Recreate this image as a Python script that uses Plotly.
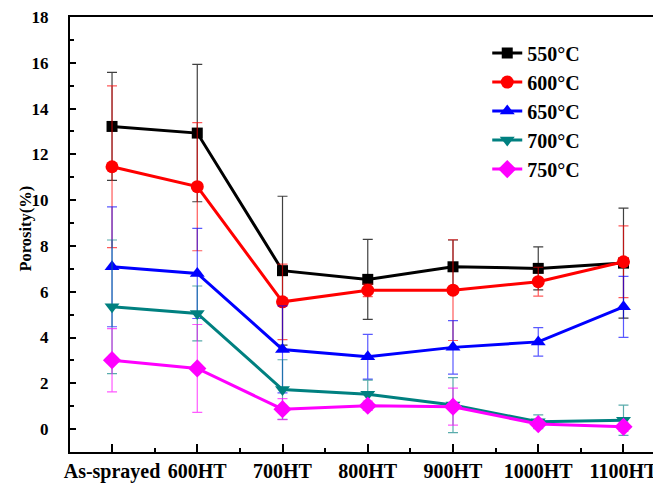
import plotly.graph_objects as go

categories = ["As-sprayed", "600HT", "700HT", "800HT", "900HT", "1000HT", "1100HT"]
series_names = ["550°C", "600°C", "650°C", "700°C", "750°C"]

p550 = [13.22, 12.93, 6.92, 6.54, 7.09, 7.02, 7.25]
e550 = [2.36, 3.0, 3.25, 1.75, 1.17, 0.94, 2.4]
p600 = [11.46, 10.59, 5.56, 6.06, 6.07, 6.44, 7.31]
e600 = [3.53, 2.8, 1.65, 0.27, 2.2, 0.63, 1.57]
p650 = [7.09, 6.80, 3.48, 3.16, 3.57, 3.81, 5.34]
e650 = [2.62, 1.97, 1.9, 0.98, 1.17, 0.62, 1.33]
p700 = [5.34, 5.05, 1.73, 1.52, 1.05, 0.32, 0.39]
e700 = [2.92, 1.2, 1.3, 0.62, 1.2, 0.3, 0.66]
p750 = [3.01, 2.65, 0.87, 1.02, 0.98, 0.22, 0.10]
e750 = [1.38, 1.92, 0.46, 0.2, 0.81, 0.1, 0.2]

values = [p550, p600, p650, p700, p750]
errors = [e550, e600, e650, e700, e750]
colors = ["#000000", "#ff0000", "#0000ff", "#008080", "#ff00ff"]
err_colors = ["rgba(0,0,0,0.75)", "rgba(255,0,0,0.65)", "rgba(0,0,255,0.65)",
              "rgba(0,128,128,0.65)", "rgba(255,0,255,0.65)"]
symbols = ["square", "circle", "triangle-up", "triangle-down", "diamond"]
sizes = [11, 13, 13, 13, 14]

x = list(range(len(categories)))
fig = go.Figure()
for name, v, e, c, ec, s, sz in zip(series_names, values, errors, colors, err_colors, symbols, sizes):
    fig.add_trace(go.Scatter(
        x=x, y=v, name=name, mode="lines+markers",
        line=dict(color=c, width=3),
        marker=dict(symbol=s, size=sz, color=c),
        error_y=dict(type="data", array=e, visible=True, color=ec, thickness=1.2, width=5),
    ))

font_family = "Liberation Serif"
# page body has an 8px default margin, so the figure is sized/offset to compensate
fig.update_layout(
    width=653, height=476,
    margin=dict(l=62, r=0, t=9, b=32),
    paper_bgcolor="white", plot_bgcolor="white",
    font=dict(family=font_family, color="black", size=16),
    showlegend=True,
    legend=dict(x=0.706, y=0.962, xanchor="left", yanchor="top",
                font=dict(family=font_family, size=20, color="black", weight="bold"),
                bgcolor="rgba(0,0,0,0)", tracegroupgap=0),
    annotations=[dict(text="Porosity(%)", textangle=-90, xref="paper", yref="paper",
                      x=-0.075, y=0.513, xanchor="center", yanchor="middle", showarrow=False,
                      font=dict(family=font_family, size=16.5, color="black", weight="bold"))],
)
fig.update_xaxes(
    range=[-0.493, 6.44], automargin=False,
    tickmode="array", tickvals=x, ticktext=categories,
    tickfont=dict(family=font_family, size=20, color="black", weight="bold"),
    ticks="inside", ticklen=8, tickwidth=1.5, tickcolor="black",
    minor=dict(tickvals=[i + 0.5 for i in range(6)], ticks="inside", ticklen=4, tickwidth=1.5, tickcolor="black"),
    showline=True, linecolor="black", linewidth=2, mirror=True,
    showgrid=False, zeroline=False, ticklabeloverflow="allow",
)
fig.update_yaxes(
    range=[-1, 18], tick0=0, dtick=2, automargin=False,
    tickfont=dict(family=font_family, size=17, color="black", weight="bold"),
    ticks="inside", ticklen=6, tickwidth=1.5, tickcolor="black",
    minor=dict(dtick=1, tick0=0, ticks="inside", ticklen=4, tickwidth=1.5, tickcolor="black"),
    showline=True, linecolor="black", linewidth=2,
    showgrid=False, zeroline=False, ticklabeloverflow="allow",
    ticklabelstandoff=16,
)
fig.write_html("out.html")
